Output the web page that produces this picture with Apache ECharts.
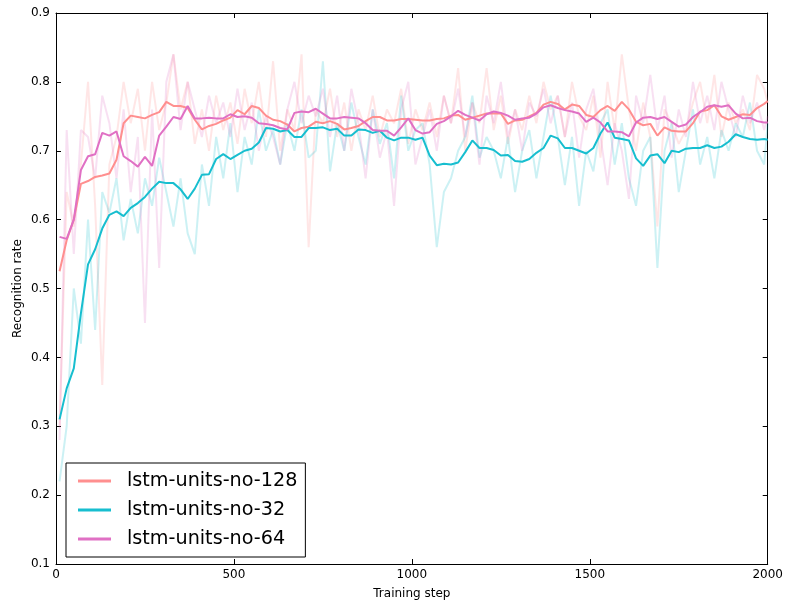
<!DOCTYPE html>
<html>
<head>
<meta charset="utf-8">
<title>Recognition rate vs training step</title>
<script src="https://cdn.jsdelivr.net/npm/echarts@6/dist/echarts.min.js"></script>
<style>
  html, body { margin: 0; padding: 0; background: #fff; }
  #chart { width: 786px; height: 605px; }
</style>
</head>
<body>
<div id="chart"></div>
<script>
// Training steps at which the curves are sampled
const steps = [
  10, 30, 50, 70, 90, 110, 130, 150, 170, 190,
  210, 230, 250, 270, 290, 310, 330, 350, 370, 390,
  410, 430, 450, 470, 490, 510, 530, 550, 570, 590,
  610, 630, 650, 670, 690, 710, 730, 750, 770, 790,
  810, 830, 850, 870, 890, 910, 930, 950, 970, 990,
  1010, 1030, 1050, 1070, 1090, 1110, 1130, 1150, 1170, 1190,
  1210, 1230, 1250, 1270, 1290, 1310, 1330, 1350, 1370, 1390,
  1410, 1430, 1450, 1470, 1490, 1510, 1530, 1550, 1570, 1590,
  1610, 1630, 1650, 1670, 1690, 1710, 1730, 1750, 1770, 1790,
  1810, 1830, 1850, 1870, 1890, 1910, 1930, 1950, 1970, 1990,
  2000
];

// Smoothed recognition rate
const smooth128 = [
  0.525, 0.570, 0.600, 0.652, 0.656, 0.662, 0.664, 0.667, 0.687, 0.740,
  0.751, 0.749, 0.747, 0.752, 0.756, 0.771, 0.765, 0.765, 0.762, 0.745,
  0.731, 0.736, 0.739, 0.744, 0.748, 0.759, 0.753, 0.765, 0.762, 0.751,
  0.745, 0.743, 0.738, 0.728, 0.733, 0.735, 0.742, 0.740, 0.743, 0.739,
  0.731, 0.733, 0.736, 0.743, 0.749, 0.749, 0.744, 0.744, 0.746, 0.746,
  0.745, 0.744, 0.744, 0.746, 0.747, 0.751, 0.752, 0.745, 0.748, 0.751,
  0.754, 0.754, 0.754, 0.739, 0.744, 0.745, 0.750, 0.755, 0.767, 0.771,
  0.768, 0.760, 0.767, 0.765, 0.752, 0.749, 0.759, 0.765, 0.758, 0.771,
  0.760, 0.742, 0.737, 0.739, 0.722, 0.734, 0.729, 0.728, 0.728, 0.740,
  0.757, 0.759, 0.766, 0.750, 0.745, 0.749, 0.753, 0.752, 0.762, 0.768,
  0.772
];
const smooth32 = [
  0.310, 0.355, 0.384, 0.464, 0.535, 0.557, 0.587, 0.607, 0.612, 0.605,
  0.617, 0.624, 0.633, 0.645, 0.655, 0.653, 0.653, 0.644, 0.630, 0.645,
  0.665, 0.666, 0.688, 0.695, 0.688, 0.694, 0.700, 0.703, 0.712, 0.733,
  0.732, 0.728, 0.730, 0.720, 0.720, 0.733, 0.733, 0.734, 0.730, 0.732,
  0.722, 0.722, 0.731, 0.730, 0.726, 0.729, 0.719, 0.715, 0.719, 0.719,
  0.716, 0.719, 0.693, 0.679, 0.681, 0.680, 0.683, 0.698, 0.715, 0.704,
  0.704, 0.701, 0.693, 0.694, 0.685, 0.684, 0.688, 0.697, 0.704, 0.722,
  0.718, 0.704, 0.704, 0.700, 0.696, 0.704, 0.725, 0.741, 0.719, 0.717,
  0.715, 0.689, 0.678, 0.693, 0.695, 0.682, 0.700, 0.698, 0.703, 0.704,
  0.704, 0.708, 0.704, 0.706, 0.713, 0.724, 0.720, 0.717, 0.716, 0.717,
  0.716
];
const smooth64 = [
  0.575, 0.572, 0.600, 0.672, 0.692, 0.695, 0.726, 0.722, 0.728, 0.692,
  0.685, 0.677, 0.691, 0.678, 0.722, 0.735, 0.749, 0.746, 0.765, 0.747,
  0.747, 0.748, 0.747, 0.747, 0.753, 0.749, 0.750, 0.748, 0.740, 0.739,
  0.737, 0.733, 0.731, 0.755, 0.757, 0.756, 0.761, 0.754, 0.747, 0.747,
  0.749, 0.748, 0.747, 0.740, 0.730, 0.729, 0.729, 0.722, 0.734, 0.747,
  0.730, 0.725, 0.727, 0.739, 0.743, 0.750, 0.758, 0.752, 0.748, 0.744,
  0.753, 0.757, 0.755, 0.751, 0.745, 0.747, 0.748, 0.754, 0.763, 0.766,
  0.762, 0.759, 0.757, 0.754, 0.742, 0.748, 0.741, 0.728, 0.728, 0.727,
  0.721, 0.741, 0.748, 0.749, 0.746, 0.749, 0.742, 0.735, 0.738, 0.749,
  0.756, 0.764, 0.766, 0.764, 0.766, 0.754, 0.747, 0.748, 0.743, 0.741,
  0.741
];

// Raw (unsmoothed) recognition rate
const raw128 = [
  0.30, 0.64, 0.59, 0.68, 0.80, 0.62, 0.36, 0.68, 0.72, 0.80,
  0.74, 0.79, 0.70, 0.80, 0.73, 0.77, 0.84, 0.76, 0.80, 0.71,
  0.76, 0.70, 0.78, 0.73, 0.77, 0.71, 0.79, 0.74, 0.80, 0.72,
  0.83, 0.70, 0.76, 0.73, 0.84, 0.56, 0.76, 0.74, 0.79, 0.72,
  0.77, 0.70, 0.76, 0.73, 0.78, 0.72, 0.76, 0.74, 0.79, 0.71,
  0.76, 0.73, 0.77, 0.72, 0.78, 0.74, 0.82, 0.70, 0.77, 0.74,
  0.82, 0.73, 0.78, 0.71, 0.76, 0.73, 0.78, 0.74, 0.80, 0.76,
  0.78, 0.72, 0.80, 0.75, 0.73, 0.78, 0.69, 0.80, 0.73, 0.84,
  0.76, 0.70, 0.77, 0.72, 0.59, 0.76, 0.74, 0.71, 0.73, 0.77,
  0.80, 0.74, 0.81, 0.72, 0.77, 0.74, 0.76, 0.73, 0.81, 0.79,
  0.77
];
const raw32 = [
  0.22, 0.30, 0.50, 0.42, 0.60, 0.44, 0.64, 0.61, 0.66, 0.57,
  0.63, 0.58, 0.66, 0.62, 0.69, 0.64, 0.59, 0.66, 0.58, 0.55,
  0.68, 0.62, 0.72, 0.66, 0.74, 0.64, 0.72, 0.68, 0.76, 0.70,
  0.73, 0.68, 0.74, 0.70, 0.76, 0.69, 0.70, 0.83, 0.67, 0.74,
  0.70, 0.77, 0.72, 0.68, 0.76, 0.71, 0.74, 0.66, 0.78, 0.70,
  0.73, 0.74, 0.68, 0.56, 0.64, 0.66, 0.70, 0.72, 0.78, 0.69,
  0.72, 0.70, 0.66, 0.72, 0.64, 0.70, 0.73, 0.66, 0.72, 0.78,
  0.72, 0.65, 0.72, 0.62, 0.70, 0.67, 0.74, 0.76, 0.68, 0.74,
  0.66, 0.62, 0.70, 0.72, 0.53, 0.70, 0.74, 0.64, 0.70, 0.76,
  0.68, 0.72, 0.66, 0.73, 0.70, 0.74, 0.72, 0.77, 0.70, 0.68,
  0.74
];
const raw64 = [
  0.28, 0.73, 0.55, 0.73, 0.72, 0.66, 0.78, 0.74, 0.66, 0.76,
  0.64, 0.72, 0.45, 0.76, 0.53, 0.80, 0.84, 0.73, 0.80, 0.76,
  0.72, 0.78, 0.74, 0.77, 0.72, 0.79, 0.73, 0.77, 0.70, 0.75,
  0.72, 0.68, 0.76, 0.80, 0.74, 0.78, 0.75, 0.79, 0.72, 0.78,
  0.70, 0.79, 0.74, 0.66, 0.76, 0.69, 0.73, 0.62, 0.76, 0.80,
  0.68, 0.72, 0.76, 0.70, 0.78, 0.74, 0.79, 0.72, 0.77, 0.68,
  0.78, 0.74, 0.80, 0.72, 0.76, 0.70, 0.77, 0.75, 0.79, 0.74,
  0.78, 0.72, 0.77, 0.69, 0.76, 0.79, 0.72, 0.65, 0.74, 0.70,
  0.63, 0.78, 0.74, 0.81, 0.73, 0.78, 0.69, 0.76, 0.72, 0.80,
  0.74, 0.78, 0.73, 0.80, 0.76, 0.72, 0.78, 0.74, 0.77, 0.73,
  0.75
];

const seriesNames = ['lstm-units-no-128', 'lstm-units-no-32', 'lstm-units-no-64'];
const xTicks = [0, 500, 1000, 1500, 2000];

const COLORS = ['#ff8f8f', '#17becf', '#e070c4'];
const FONT = 'DejaVu Sans';

const pairs = (vals) => steps.map((s, i) => [s, vals[i]]);

function rawLine(name, vals, color) {
  return {
    name: name, type: 'line', data: pairs(vals), symbol: 'none',
    lineStyle: { color: color, width: 2, opacity: 0.22 },
    itemStyle: { color: color }, z: 1, silent: true
  };
}
function smoothLine(name, vals, color, z) {
  return {
    name: name, type: 'line', data: pairs(vals), symbol: 'none',
    lineStyle: { color: color, width: 2 },
    itemStyle: { color: color }, z: z
  };
}

const tickStyle = { inside: true, length: 5, lineStyle: { color: '#000', width: 1 } };
const lineStyleBlack = { show: true, onZero: false, lineStyle: { color: '#000', width: 1 } };
const labelStyle = { color: '#000', fontFamily: FONT, fontSize: 12 };

const chart = echarts.init(document.getElementById('chart'), null, { renderer: 'canvas' });
chart.setOption({
  animation: false,
  backgroundColor: '#fff',
  grid: { left: 56, right: 18, top: 13, bottom: 41, containLabel: false },
  legend: {
    data: seriesNames,
    orient: 'vertical',
    left: 66,
    top: 463,
    padding: [6, 8, 6, 12],
    borderColor: '#000',
    borderWidth: 1,
    backgroundColor: '#fff',
    itemWidth: 33,
    itemHeight: 3,
    itemGap: 5,
    icon: 'rect',
    textStyle: { color: '#000', fontFamily: FONT, fontSize: 19.2, lineHeight: 24, padding: [0, 0, 0, 11] }
  },
  xAxis: [
    {
      type: 'value', min: xTicks[0], max: xTicks[xTicks.length - 1], interval: 500,
      position: 'bottom',
      axisLine: lineStyleBlack, axisTick: tickStyle, splitLine: { show: false },
      axisLabel: Object.assign({ margin: 5, formatter: (v) => String(v) }, labelStyle),
      name: 'Training step', nameLocation: 'middle', nameGap: 24,
      nameTextStyle: { color: '#000', fontFamily: FONT, fontSize: 12 }
    },
    {
      type: 'value', min: xTicks[0], max: xTicks[xTicks.length - 1], interval: 500,
      position: 'top',
      axisLine: lineStyleBlack, axisTick: tickStyle, splitLine: { show: false },
      axisLabel: { show: false }
    }
  ],
  yAxis: [
    {
      type: 'value', min: 0.1, max: 0.9, interval: 0.1,
      position: 'left',
      axisLine: lineStyleBlack, axisTick: tickStyle, splitLine: { show: false },
      axisLabel: Object.assign({ margin: 6, formatter: (v) => v.toFixed(1) }, labelStyle),
      name: 'Recognition rate', nameLocation: 'middle', nameGap: 32, nameRotate: 90,
      nameMoveOverlap: false,
      nameTextStyle: { color: '#000', fontFamily: FONT, fontSize: 12 }
    },
    {
      type: 'value', min: 0.1, max: 0.9, interval: 0.1,
      position: 'right',
      axisLine: lineStyleBlack, axisTick: tickStyle, splitLine: { show: false },
      axisLabel: { show: false }
    }
  ],
  series: [
    rawLine('raw-128', raw128, COLORS[0]),
    rawLine('raw-32', raw32, COLORS[1]),
    rawLine('raw-64', raw64, COLORS[2]),
    smoothLine(seriesNames[0], smooth128, COLORS[0], 3),
    smoothLine(seriesNames[1], smooth32, COLORS[1], 4),
    smoothLine(seriesNames[2], smooth64, COLORS[2], 5)
  ]
});
</script>
</body>
</html>
